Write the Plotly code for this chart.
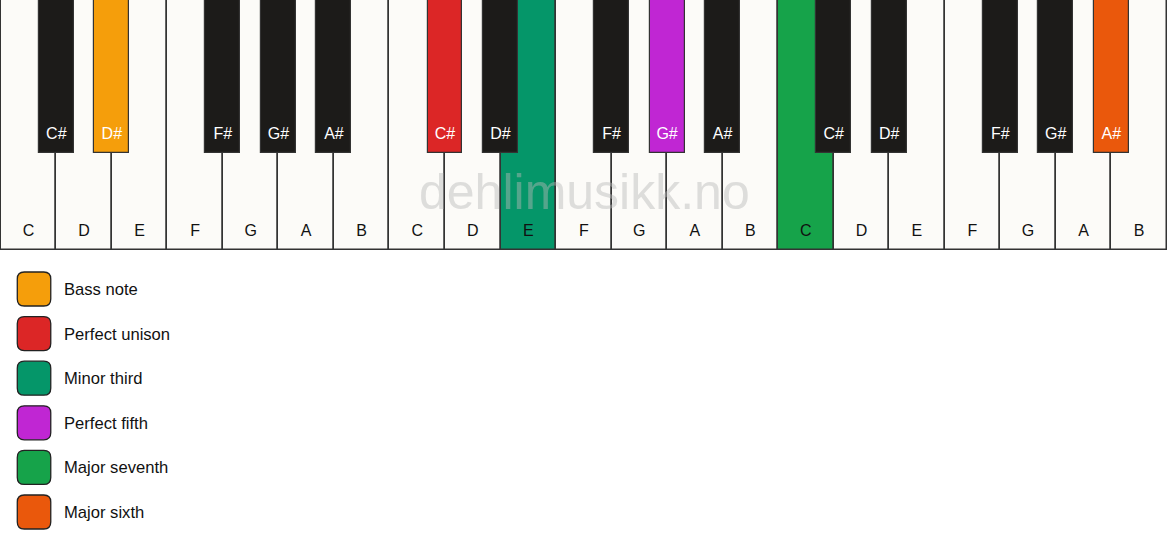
import plotly.graph_objects as go

# keyboard data: three octaves
white_notes = ["C", "D", "E", "F", "G", "A", "B"] * 3
black_notes = ["C#", "D#", "F#", "G#", "A#"] * 3
black_after = [0, 1, 3, 4, 5]  # white key index the black key sits after (per octave)

# highlighted keys: index -> colour
highlight_white = {9: "#059669", 14: "#16a34a"}            # E (2nd oct), C (3rd oct)
highlight_black = {1: "#f59e0b", 5: "#dc2626", 8: "#c026d3", 14: "#ea580c"}

legend_labels = ["Bass note", "Perfect unison", "Minor third",
                 "Perfect fifth", "Major seventh", "Major sixth"]
legend_colors = ["#f59e0b", "#dc2626", "#059669", "#c026d3", "#16a34a", "#ea580c"]

W_PX, H_PX = 1167, 550
KW = W_PX / 21          # white key width
WHITE_H, BLACK_H = 250, 153
WHITE_COL, BLACK_COL, EDGE = "#fcfbf8", "#1c1b19", "#333333"
FONT = "Liberation Sans, Arial, sans-serif"

wx = [(i + 0.5) * KW for i in range(len(white_notes))]
wcol = [highlight_white.get(i, WHITE_COL) for i in range(len(white_notes))]
bx = [(7 * (j // 5) + black_after[j % 5] + 1) * KW for j in range(len(black_notes))]
bcol = [highlight_black.get(j, BLACK_COL) for j in range(len(black_notes))]

fig = go.Figure()
fig.add_trace(go.Bar(x=wx, y=[WHITE_H] * len(wx), base=0, width=KW,
                     marker=dict(color=wcol, line=dict(color=EDGE, width=1.5)),
                     hoverinfo="skip"))
fig.add_trace(go.Bar(x=bx, y=[BLACK_H] * len(bx), base=0, width=KW * 0.63,
                     marker=dict(color=bcol, line=dict(color=EDGE, width=1.2)),
                     hoverinfo="skip"))
fig.add_trace(go.Scatter(x=wx, y=[232] * len(wx), mode="text", text=white_notes,
                         textfont=dict(family=FONT, size=16, color="#111111"),
                         hoverinfo="skip"))
fig.add_trace(go.Scatter(x=bx, y=[134.5] * len(bx), mode="text", text=black_notes,
                         textfont=dict(family=FONT, size=16, color="#ffffff"),
                         hoverinfo="skip"))


def rounded_rect(x0, y0, x1, y1, r):
    return (f"M {x0+r},{y0} L {x1-r},{y0} Q {x1},{y0} {x1},{y0+r} "
            f"L {x1},{y1-r} Q {x1},{y1} {x1-r},{y1} L {x0+r},{y1} "
            f"Q {x0},{y1} {x0},{y1-r} L {x0},{y0+r} Q {x0},{y0} {x0+r},{y0} Z")


shapes = []
annotations = []
for i, (lab, col) in enumerate(zip(legend_labels, legend_colors)):
    cy = 289 + i * 44.6
    shapes.append(dict(type="path", xref="x", yref="y",
                       path=rounded_rect(16.5, cy - 17, 50, cy + 17, 7),
                       fillcolor=col, line=dict(color="#222222", width=1.3)))
    annotations.append(dict(x=61, y=cy + 0.5, xref="x", yref="y", text=lab,
                            showarrow=False, xanchor="left", yanchor="middle",
                            font=dict(family=FONT, size=16.6, color="#111111")))

annotations.append(dict(x=584, y=192, xref="x", yref="y", text="dehlimusikk.no",
                        showarrow=False, xanchor="center", yanchor="middle",
                        font=dict(family=FONT, size=50, color="rgba(185,185,185,0.45)")))

fig.update_layout(
    width=W_PX, height=H_PX,
    margin=dict(l=0, r=0, t=0, b=0),
    paper_bgcolor="white", plot_bgcolor="white",
    barmode="overlay", bargap=0, showlegend=False,
    shapes=shapes, annotations=annotations,
    xaxis=dict(range=[-0.8, W_PX + 0.2], visible=False, fixedrange=True),
    yaxis=dict(range=[H_PX, 0], visible=False, fixedrange=True),
)

fig.write_html("out.html", config={"displayModeBar": False},
               post_script="document.body.style.margin='0';")
